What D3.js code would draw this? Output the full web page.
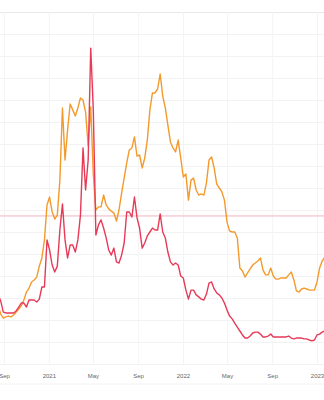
<!DOCTYPE html>
<html>
<head>
<meta charset="utf-8">
<script src="https://cdn.jsdelivr.net/npm/d3@7"></script>
<style>
	body	{ margin:0; background:#fff; }
	svg	{ display:block; font-family:"Open Sans", "DejaVu Sans", sans-serif; }
	.tick text	{ fill:#666; font-size:6px; }
</style>
</head>
<body>
<div id="chart"></div>
<script>
// weekly points, first week starts 2020-08-16
var weekStart	= new Date(2020, 7, 16);
var orange	= [26.4,22.7,20.9,21.4,21.8,21.4,22.3,23.6,25.0,26.4,29.1,32.7,34.5,37.3,38.2,39.5,44.5,48.2,56.4,72.3,
	75.9,69.1,65.9,67.7,83.6,116.4,92.7,106.4,118.2,115.5,112.7,116.4,120.9,120.0,114.5,99.1,116.8,85.9,70.0,71.4,
	71.4,76.8,72.3,70.5,69.5,68.6,65.0,70.0,77.7,84.5,91.4,97.3,98.2,103.2,94.5,95.0,89.1,93.6,101.8,115.5,
	123.2,123.2,125.0,131.8,121.8,116.4,108.6,100.9,98.2,96.4,101.8,93.6,85.0,86.4,74.5,83.6,84.5,79.1,76.8,77.3,
	76.8,82.3,92.7,94.1,89.1,81.8,80.0,78.2,74.5,64.5,60.5,60.0,60.0,57.3,43.6,42.3,39.5,41.4,43.2,45.0,
	45.9,46.8,48.2,42.7,40.5,40.5,43.6,40.0,38.6,38.6,39.1,39.1,39.1,40.5,41.8,38.2,33.2,32.7,34.1,34.5,
	34.1,33.6,33.6,33.6,37.3,43.6,46.8,48.6];
var red		= [31.4,28.6,23.6,23.2,23.2,23.2,23.2,24.1,25.9,27.7,27.7,25.9,29.1,29.1,29.1,28.2,29.5,35.0,35.0,56.4,
	51.8,45.0,41.8,44.5,60.9,72.7,56.4,48.2,54.1,54.1,50.9,56.4,67.7,98.2,79.1,92.7,143.6,115.5,58.6,63.2,
	65.5,61.8,57.3,51.8,49.5,52.7,46.4,45.9,49.5,55.0,69.1,69.1,66.8,75.9,66.4,61.8,52.7,55.0,58.2,60.0,
	61.8,60.9,60.9,68.2,60.0,57.3,50.9,46.4,45.0,45.9,45.0,40.0,39.1,33.6,29.5,33.6,33.6,31.4,30.5,29.5,
	29.1,31.8,36.8,37.3,34.1,32.3,31.4,30.0,27.7,24.5,21.8,20.5,18.6,16.8,15.0,13.2,11.8,11.8,12.7,14.1,
	14.5,14.5,13.6,12.3,12.3,12.7,13.6,12.3,12.3,12.3,12.3,12.3,12.3,12.7,11.8,11.4,11.8,11.8,11.8,11.4,
	11.4,10.9,10.5,10.9,13.2,13.6,14.5,15.0];
var refLine	= 67.3;
var yTicks	= d3.range(0, 170, 10);

var W = 324, H = 400;
var svg = d3.select('#chart').append('svg').attr('width', W).attr('height', H);
var weeks = orange.map(function(d, i) { return d3.timeWeek.offset(weekStart, i); });

var x = d3.scaleTime().domain([new Date(2020, 7, 21), new Date(2023, 0, 20)]).range([0, W]);
var y = d3.scaleLinear().domain([0, 160]).range([364, 12]);

svg.append('defs').append('clipPath').attr('id', 'plot')
	.append('rect').attr('x', 0).attr('y', 0).attr('width', W).attr('height', 364);

// grid
svg.append('g').attr('class', 'y-grid')
	.call(d3.axisRight(y).tickValues(yTicks).tickSize(W).tickFormat(''))
	.call(function(g) {
		g.select('.domain').remove();
		g.selectAll('.tick line').attr('stroke', '#f2f2f2');
		g.select('.tick:last-of-type line').attr('stroke', '#e8e8e8');
	});
svg.append('g').attr('class', 'x-grid').attr('transform', 'translate(0,12)')
	.call(d3.axisBottom(x).ticks(d3.timeMonth.every(4)).tickSize(352).tickFormat(''))
	.call(function(g) {
		g.select('.domain').remove();
		g.selectAll('.tick line').attr('stroke', '#f4f4f4');
	});

// x labels
var fmt = function(d) { return d.getMonth() == 0 ? d3.timeFormat('%Y')(d) : d3.timeFormat('%b')(d); };
svg.append('g').attr('class', 'x-axis').attr('transform', 'translate(0,370)')
	.call(d3.axisBottom(x).ticks(d3.timeMonth.every(4)).tickSize(0).tickPadding(4).tickFormat(fmt))
	.call(function(g) { g.select('.domain').remove(); });
svg.append('line').attr('x1', 0).attr('x2', W).attr('y1', 384).attr('y2', 384).attr('stroke', '#f2f2f2');

// reference line
svg.append('line').attr('x1', 0).attr('x2', W).attr('y1', y(refLine)).attr('y2', y(refLine))
	.attr('stroke', '#f0b4bf').attr('stroke-width', 1);

var line = d3.line().x(function(d, i) { return x(weeks[i]); }).y(function(d) { return y(d); });
var plot = svg.append('g').attr('clip-path', 'url(#plot)');
plot.append('path').datum(orange).attr('d', line)
	.attr('fill', 'none').attr('stroke', '#f39a2c').attr('stroke-width', 1.4).attr('stroke-linejoin', 'round');
plot.append('path').datum(red).attr('d', line)
	.attr('fill', 'none').attr('stroke', '#e63a58').attr('stroke-width', 1.4).attr('stroke-linejoin', 'round');
</script>
</body>
</html>
